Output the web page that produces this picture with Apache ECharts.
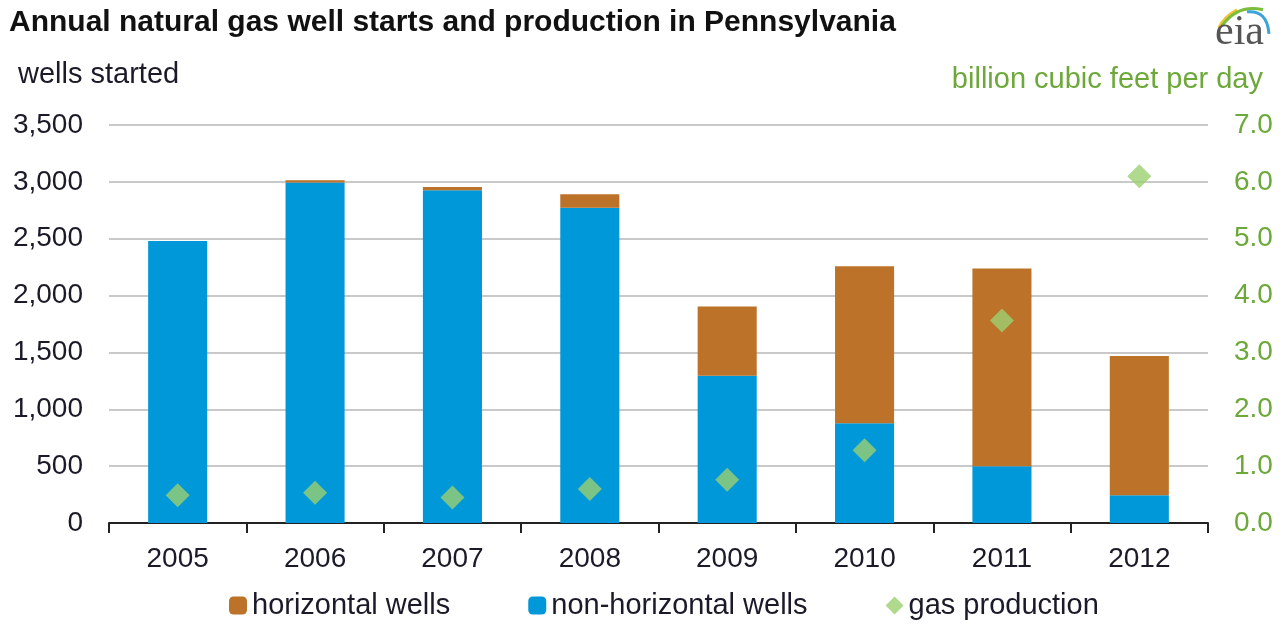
<!DOCTYPE html>
<html>
<head>
    <meta charset="utf-8">
    <title>Annual natural gas well starts and production in Pennsylvania</title>
    <script src="https://cdn.jsdelivr.net/npm/echarts@6/dist/echarts.min.js"></script>
    <style>
        html, body { margin: 0; padding: 0; background: #fff; }
    </style>
</head>
<body>
    <div id="main" style="width: 1283px;height:627px;"></div>
    <script type="text/javascript">
        // data
        var years = ['2005', '2006', '2007', '2008', '2009', '2010', '2011', '2012'];
        var horizontalWells = [0, 20, 27, 120, 608, 1381, 1737, 1225];
        var nonHorizontalWells = [2480, 2995, 2927, 2772, 1296, 877, 500, 243];
        var gasProduction = [0.49, 0.53, 0.45, 0.60, 0.76, 1.28, 3.56, 6.10];

        var blue = '#0098D8';
        var brown = '#BD7229';
        var green = '#9BCF70';
        var axisGreen = '#6DA83A';
        var font = 'Liberation Sans, Arial, sans-serif';

        var myChart = echarts.init(document.getElementById('main'));

        myChart.setOption({
            animation: false,
            textStyle: { fontFamily: font },
            title: {
                text: 'Annual natural gas well starts and production in Pennsylvania',
                left: 4,
                top: 3,
                textStyle: { fontSize: 30, fontWeight: 'bold', color: '#111' }
            },
            legend: {
                data: ['horizontal wells', 'non-horizontal wells', 'gas production'],
                bottom: 2,
                left: 224,
                itemGap: 78,
                itemWidth: 18,
                itemHeight: 18,
                textStyle: { fontSize: 29, color: '#1a1a28' }
            },
            grid: { left: 109, right: 75, top: 125, bottom: 104 },
            xAxis: {
                type: 'category',
                data: years,
                axisLine: { lineStyle: { color: '#222', width: 2 } },
                axisTick: { show: true, length: 10, lineStyle: { color: '#222', width: 2 } },
                axisLabel: { fontSize: 28, color: '#1a1a28', margin: 22 }
            },
            yAxis: [{
                type: 'value',
                min: 0,
                max: 3500,
                interval: 500,
                axisLine: { show: false },
                axisTick: { show: false },
                splitLine: { lineStyle: { color: '#C9C9C9', width: 2 } },
                axisLabel: {
                    fontSize: 28, color: '#1a1a28', margin: 26,
                    formatter: function (v) { return v.toLocaleString('en-US'); }
                }
            }, {
                type: 'value',
                min: 0,
                max: 7,
                interval: 1,
                position: 'right',
                axisLine: { show: false },
                axisTick: { show: false },
                splitLine: { show: false },
                axisLabel: {
                    fontSize: 28, color: axisGreen, margin: 26,
                    formatter: function (v) { return v.toFixed(1); }
                }
            }],
            graphic: [{
                type: 'text',
                left: 18,
                top: 60,
                style: { text: 'wells started', fontSize: 29, fill: '#1a1a28', fontFamily: font }
            }, {
                type: 'text',
                right: 20,
                top: 65,
                style: { text: 'billion cubic feet per day', fontSize: 29, fill: axisGreen, fontFamily: font }
            }, {
                // eia logo
                type: 'group',
                left: 1215,
                top: 6,
                children: [{
                    type: 'bezierCurve',
                    shape: { x1: 6, y1: 28, cpx1: 10, cpy1: 18, x2: 24, y2: 10 },
                    style: { stroke: '#F2C230', lineWidth: 3, fill: null }
                }, {
                    type: 'bezierCurve',
                    shape: { x1: 9, y1: 26, cpx1: 25, cpy1: 4, x2: 50, y2: 10 },
                    style: { stroke: '#7BBE3C', lineWidth: 3, fill: null }
                }, {
                    type: 'bezierCurve',
                    shape: { x1: 34, y1: 12, cpx1: 54, cpy1: 10, x2: 56, y2: 34 },
                    style: { stroke: '#3AA3DA', lineWidth: 3, fill: null }
                }, {
                    type: 'text',
                    x: 2,
                    y: 54,
                    style: {
                        text: 'eia', fontSize: 42, fill: '#555',
                        fontFamily: 'Liberation Serif, serif', verticalAlign: 'bottom'
                    }
                }]
            }],
            series: [{
                name: 'non-horizontal wells',
                type: 'bar',
                stack: 'wells',
                barWidth: '43%',
                itemStyle: { color: blue },
                data: nonHorizontalWells
            }, {
                name: 'horizontal wells',
                type: 'bar',
                stack: 'wells',
                itemStyle: { color: brown },
                data: horizontalWells
            }, {
                name: 'gas production',
                type: 'scatter',
                yAxisIndex: 1,
                symbol: 'diamond',
                symbolSize: 24,
                itemStyle: { color: green },
                data: gasProduction
            }]
        });
    </script>
</body>
</html>
